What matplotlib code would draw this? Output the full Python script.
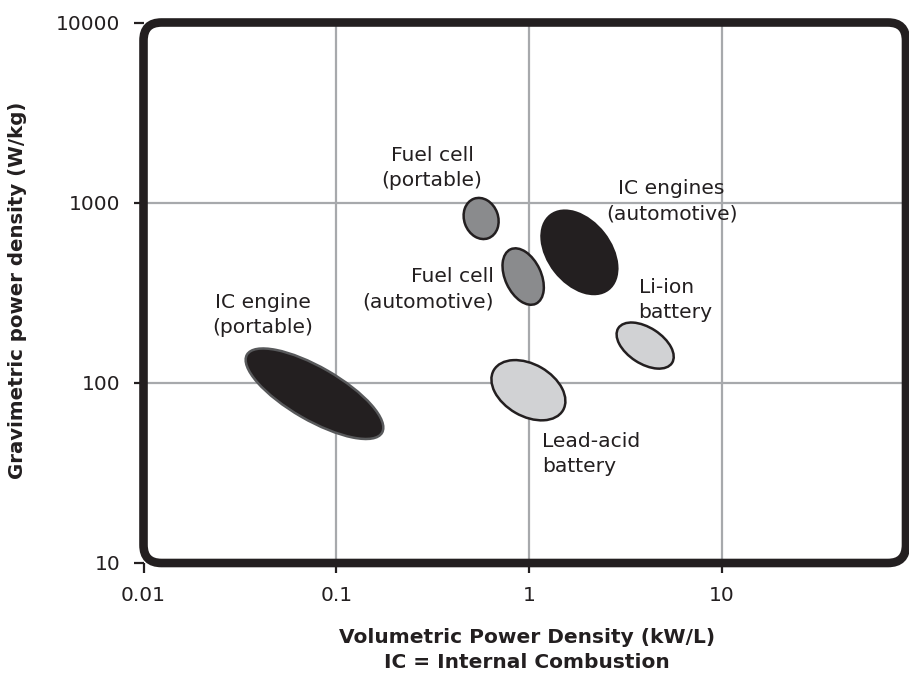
import matplotlib
matplotlib.use("Agg")
import matplotlib.pyplot as plt
import matplotlib.patches as mpatches
import matplotlib.transforms as mtransforms
from matplotlib.ticker import FixedLocator, NullLocator, FixedFormatter

# ---- data ----
categories = ["IC engine (portable)", "Fuel cell (portable)", "Fuel cell (automotive)",
              "IC engines (automotive)", "Li-ion battery", "Lead-acid battery"]
vol_power_center = [0.077, 0.563, 0.93, 1.82, 3.99, 0.99]      # kW/L
grav_power_center = [87.0, 817.0, 389.0, 530.0, 161.0, 91.0]  # W/kg

# ellipse shape (inches / degrees) and style
ell_width = [1.56, 0.42, 0.60, 0.94, 0.64, 0.80]
ell_height = [0.53, 0.34, 0.36, 0.62, 0.36, 0.52]
ell_angle = [-30, -70, -65, -52, -33, -30]
ell_face = ["#231f20", "#8a8b8d", "#8a8b8d", "#231f20", "#d1d2d4", "#d1d2d4"]
ell_edge = ["#58595b", "#231f20", "#231f20", "#231f20", "#231f20", "#231f20"]

label_texts = ["IC engine\n(portable)", "Fuel cell\n(portable)", "Fuel cell\n(automotive)",
               "IC engines\n(automotive)", "Li-ion\nbattery", "Lead-acid\nbattery"]
label_x = [0.0416, 0.313, 0.655, 5.47, 3.69, 1.16]
label_y = [238, 1560, 332, 1022, 288, 40.3]
label_ha = ["center", "center", "right", "center", "left", "left"]

x_ticks = [0.01, 0.1, 1, 10]
x_ticklabels = ["0.01", "0.1", "1", "10"]
y_ticks = [10, 100, 1000, 10000]
y_ticklabels = ["10", "100", "1000", "10000"]

DPI = 100
W, H = 909, 680
fig = plt.figure(figsize=(W / DPI, H / DPI), dpi=DPI)
L, R, B, T = 143.5, 906, 563, 22.5
ax = fig.add_axes([L / W, 1 - B / H, (R - L) / W, (B - T) / H])
ax.set_xscale("log")
ax.set_yscale("log")
ax.set_xlim(0.01, 10 ** (1 + (R - 722) / 193.0))
ax.set_ylim(10, 10000)

for s in ax.spines.values():
    s.set_visible(False)

txtc = "#231f20"
ax.xaxis.set_major_locator(FixedLocator(x_ticks))
ax.xaxis.set_major_formatter(FixedFormatter(x_ticklabels))
ax.yaxis.set_major_locator(FixedLocator(y_ticks))
ax.yaxis.set_major_formatter(FixedFormatter(y_ticklabels))
ax.xaxis.set_minor_locator(NullLocator())
ax.yaxis.set_minor_locator(NullLocator())
ax.tick_params(axis="both", direction="out", length=7.5, width=1.6, color=txtc,
               labelsize=14.5, labelcolor=txtc)
ax.tick_params(axis="x", pad=9)
ax.tick_params(axis="y", pad=9)

# grid
for xv in x_ticks[1:]:
    ax.axvline(xv, color="#a7a9ac", lw=1.6, zorder=1)
for yv in y_ticks[1:-1]:
    ax.axhline(yv, color="#a7a9ac", lw=1.6, zorder=1)

# ellipses
for cx, cy, w, h, a, fc, ec in zip(vol_power_center, grav_power_center, ell_width,
                                  ell_height, ell_angle, ell_face, ell_edge):
    tr = fig.dpi_scale_trans + mtransforms.ScaledTranslation(cx, cy, ax.transData)
    e = mpatches.Ellipse((0, 0), w, h, angle=a, transform=tr, facecolor=fc,
                         edgecolor=ec, lw=1.8, zorder=3)
    ax.add_patch(e)

for t, x, y, ha in zip(label_texts, label_x, label_y, label_ha):
    ax.text(x, y, t, ha=ha, va="center", fontsize=14.6, color=txtc,
            multialignment=ha, zorder=4, linespacing=1.42)

# rounded frame (in pixel coordinates)
frame = mpatches.FancyBboxPatch((L, H - B), R - L, B - T,
                                boxstyle="round,pad=0,rounding_size=18",
                                transform=mtransforms.IdentityTransform(),
                                facecolor="none", edgecolor=txtc, lw=6.2,
                                zorder=10, clip_on=False)
fig.patches.append(frame)

fig.text(18 / W, 1 - 290 / H, "Gravimetric power density (W/kg)", rotation=90,
         ha="center", va="center", fontsize=14.2, fontweight="bold", color=txtc)
fig.text(527 / W, 1 - 650 / H, "Volumetric Power Density (kW/L)\nIC = Internal Combustion",
         ha="center", va="center", fontsize=14.5, fontweight="bold", color=txtc,
         multialignment="center", linespacing=1.35)

fig.savefig("out.png", dpi=DPI)
